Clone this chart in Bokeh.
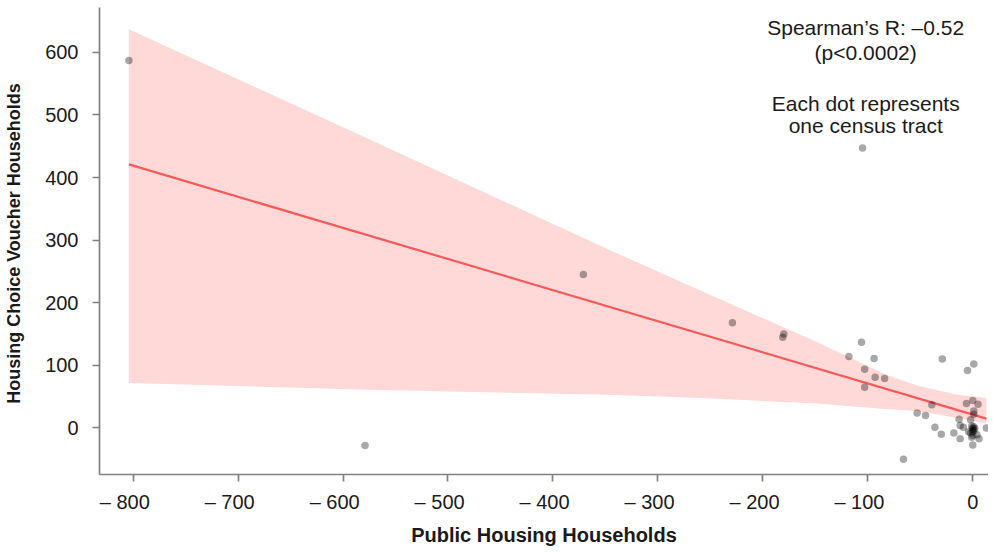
from bokeh.plotting import figure
from bokeh.models import Range1d, FixedTicker, Label, ColumnDataSource
from bokeh.embed import file_html
from bokeh.resources import INLINE

# ---- data ----
public_housing = [-804, -579, -371, -229, -180, -181, -105, -106, -118, -94,
                  -103, -93, -84, -103, -29, 1, -5, -39, -53, -45,
                  -66, -36, -30, -18, -12, -13, -6, 0, 5, 1,
                  1, -2, -12, -9, 13, 0, 6, 4, -4, 0,
                  0, -1, 1, -2, 0, 2, -1, 1, 0]
voucher = [587, -28, 245, 168, 150, 145, 447, 137, 114, 111,
           94, 81, 79, 65, 110, 102, 92, 37, 24, 20,
           -50, 1, -10, -8, -17, 14, 39, 44, 38, 27,
           22, 13, 4, 1, 0, -27, -17, -11, -6, 0,
           -2, 3, -4, -8, -12, -1, -15, 2, -6]

fit_x = [-804, 13]
fit_y = [421, 15]

band_x = [-804, -575, -347, -259, -148, -81, -53, -41, -15, 13]
band_upper = [637, 461, 285, 219, 137, 84, 68, 63, 53, 48]
band_lower = [72, 61, 53, 48, 39, 30, 27, 24, 16, 7]

x_ticks = [-800, -700, -600, -500, -400, -300, -200, -100, 0]
x_tick_labels = ["\u2013 800", "\u2013 700", "\u2013 600", "\u2013 500", "\u2013 400",
                 "\u2013 300", "\u2013 200", "\u2013 100", "0"]
y_ticks = [0, 100, 200, 300, 400, 500, 600]

FONT = "Liberation Sans"
TXT = "#1a1a1a"
AX = "#808080"
PAD = "\u2007\u2008"  # balances the leading "– " so the digits sit on the tick

p = figure(width=988, height=548, output_backend="svg", toolbar_location=None,
           x_range=Range1d(-832, 15), y_range=Range1d(-74.3, 671.6),
           min_border_left=99, min_border_right=0, min_border_top=7,
           min_border_bottom=69)
p.outline_line_color = None
p.grid.visible = False
p.background_fill_color = "white"
p.border_fill_color = "white"

p.varea(x=band_x, y1=band_lower, y2=band_upper, fill_color="#ffd8d8", fill_alpha=1.0)
p.line(fit_x, fit_y, line_color="#f85a5a", line_width=2.2)

src = ColumnDataSource(dict(x=public_housing, y=voucher))
p.scatter("x", "y", source=src, size=7.5, fill_color="black", fill_alpha=0.34,
          line_color=None)

for ax in (p.xaxis[0], p.yaxis[0]):
    ax.axis_line_color = AX
    ax.axis_line_width = 1.7
    ax.major_tick_line_color = AX
    ax.major_tick_line_width = 1.7
    ax.major_tick_out = 7
    ax.major_tick_in = 0
    ax.minor_tick_line_color = None
    ax.major_label_text_font = FONT
    ax.major_label_text_font_size = "20px"
    ax.major_label_text_color = TXT
    ax.axis_label_text_font = FONT
    ax.axis_label_text_font_style = "bold"
    ax.axis_label_text_color = TXT

p.xaxis.ticker = FixedTicker(ticks=x_ticks)
p.xaxis.major_label_overrides = {
    t: (l + PAD if l.startswith("\u2013") else l) for t, l in zip(x_ticks, x_tick_labels)}
p.xaxis.major_label_standoff = 9
p.xaxis.axis_label = "Public Housing Households"
p.xaxis.axis_label_text_font_size = "20px"
p.xaxis.axis_label_standoff = 8

p.yaxis.ticker = FixedTicker(ticks=y_ticks)
p.yaxis.major_label_standoff = 14
p.yaxis.axis_label = "Housing  Choice Voucher Households"
p.yaxis.axis_label_text_font_size = "18px"
p.yaxis.axis_label_standoff = 18

notes = [("Spearman\u2019s R: \u20130.52", 640), ("(p<0.0002)", 599),
         ("Each dot represents", 518), ("one census tract", 483)]
for txt, yy in notes:
    p.add_layout(Label(x=-102, y=yy, text=txt, text_align="center",
                       text_baseline="middle", text_font=FONT,
                       text_font_size="21px", text_color=TXT))

open("out.html", "w").write(file_html(p, INLINE))
